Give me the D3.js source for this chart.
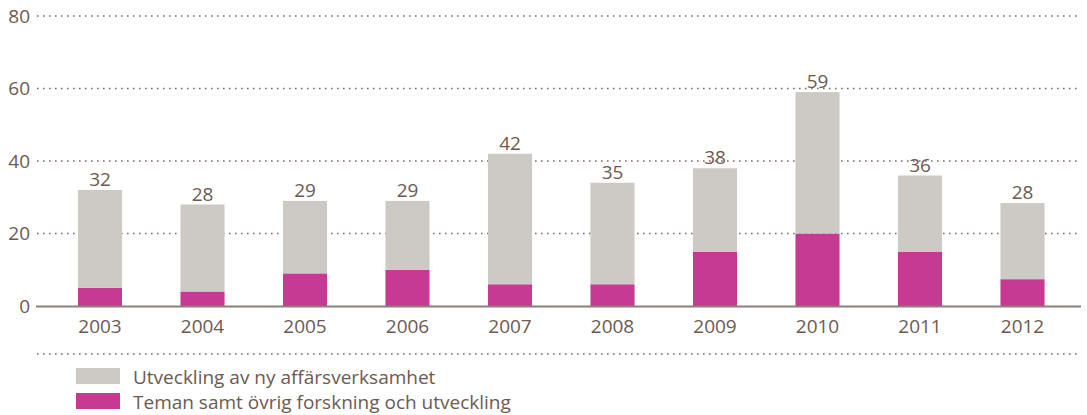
<!DOCTYPE html>
<html>
<head>
<meta charset="utf-8">
<script src="https://cdn.jsdelivr.net/npm/d3@7"></script>
<style>
  body { margin: 0; background: #fff; }
  text { font-family: "Open Sans", sans-serif; fill: #6c5a52; }
</style>
</head>
<body>
<div id="chart"></div>
<script>
const years = ["2003", "2004", "2005", "2006", "2007", "2008", "2009", "2010", "2011", "2012"];
const teman = [5, 4, 9, 10, 6, 6, 15, 20, 15, 7.4];
const affars = [27, 24, 20, 19, 36, 28, 23, 39, 21, 21];
const totalLabels = [32, 28, 29, 29, 42, 35, 38, 59, 36, 28];
const yTicks = [0, 20, 40, 60, 80];
const seriesNames = ["Utveckling av ny affärsverksamhet", "Teman samt övrig forskning och utveckling"];
const seriesColors = ["#cdcac5", "#c63a94"];

function drawChart() {
    const width = 1087, height = 415;
    const fontSize = "19px";

    const svg = d3.select("#chart").append("svg")
        .attr("width", width)
        .attr("height", height);

    const x = d3.scaleBand()
        .domain(years)
        .range([48.75, 1073.75])
        .paddingInner(0.57)
        .paddingOuter(0.285);

    const y = d3.scaleLinear()
        .domain([0, 80])
        .range([306, 16]);

    const dotColor = "#7d6a60";

    // gridlines (dotted), behind bars
    svg.selectAll(".grid")
        .data(yTicks.filter(d => d > 0))
        .enter().append("line")
        .attr("x1", 37).attr("x2", 1081)
        .attr("y1", d => y(d)).attr("y2", d => y(d))
        .attr("stroke", dotColor)
        .attr("stroke-width", 1.6)
        .attr("stroke-dasharray", "1.6,4.4");

    svg.selectAll(".ytick")
        .data(yTicks)
        .enter().append("text")
        .attr("x", 30)
        .attr("y", d => y(d))
        .attr("dy", "0.36em")
        .attr("text-anchor", "end")
        .style("font-size", fontSize)
        .text(d => d);

    const rows = years.map((yr, i) => ({ year: yr, teman: teman[i], affars: affars[i] }));
    const stack = d3.stack().keys(["teman", "affars"]);
    const layers = stack(rows);
    const colorOf = { teman: seriesColors[1], affars: seriesColors[0] };

    svg.selectAll(".layer")
        .data(layers)
        .enter().append("g")
        .attr("fill", d => colorOf[d.key])
        .selectAll("rect")
        .data(d => d)
        .enter().append("rect")
        .attr("x", d => x(d.data.year))
        .attr("width", x.bandwidth())
        .attr("y", d => y(d[1]))
        .attr("height", d => y(d[0]) - y(d[1]));

    // baseline
    svg.append("line")
        .attr("x1", 36).attr("x2", 1081)
        .attr("y1", y(0) + 0.5).attr("y2", y(0) + 0.5)
        .attr("stroke", "#8c7f78")
        .attr("stroke-width", 2);

    // value labels
    svg.selectAll(".vlabel")
        .data(rows)
        .enter().append("text")
        .attr("x", d => x(d.year) + x.bandwidth() / 2)
        .attr("y", d => y(d.teman + d.affars) - 4)
        .attr("text-anchor", "middle")
        .style("font-size", fontSize)
        .text((d, i) => totalLabels[i]);

    // x labels
    svg.selectAll(".xlabel")
        .data(years)
        .enter().append("text")
        .attr("x", d => x(d) + x.bandwidth() / 2)
        .attr("y", 333)
        .attr("text-anchor", "middle")
        .style("font-size", fontSize)
        .text(d => d);

    // separator above legend
    svg.append("line")
        .attr("x1", 37).attr("x2", 1081)
        .attr("y1", 354).attr("y2", 354)
        .attr("stroke", dotColor)
        .attr("stroke-width", 1.6)
        .attr("stroke-dasharray", "1.6,4.4");

    const legend = svg.selectAll(".legend")
        .data(seriesNames)
        .enter().append("g")
        .attr("transform", (d, i) => `translate(76, ${368 + i * 25})`);

    legend.append("rect")
        .attr("width", 44)
        .attr("height", 16)
        .attr("fill", (d, i) => seriesColors[i]);

    legend.append("text")
        .attr("x", 57)
        .attr("y", 9)
        .attr("dy", "0.36em")
        .style("font-size", fontSize)
        .text(d => d);
}

drawChart();
</script>
</body>
</html>
